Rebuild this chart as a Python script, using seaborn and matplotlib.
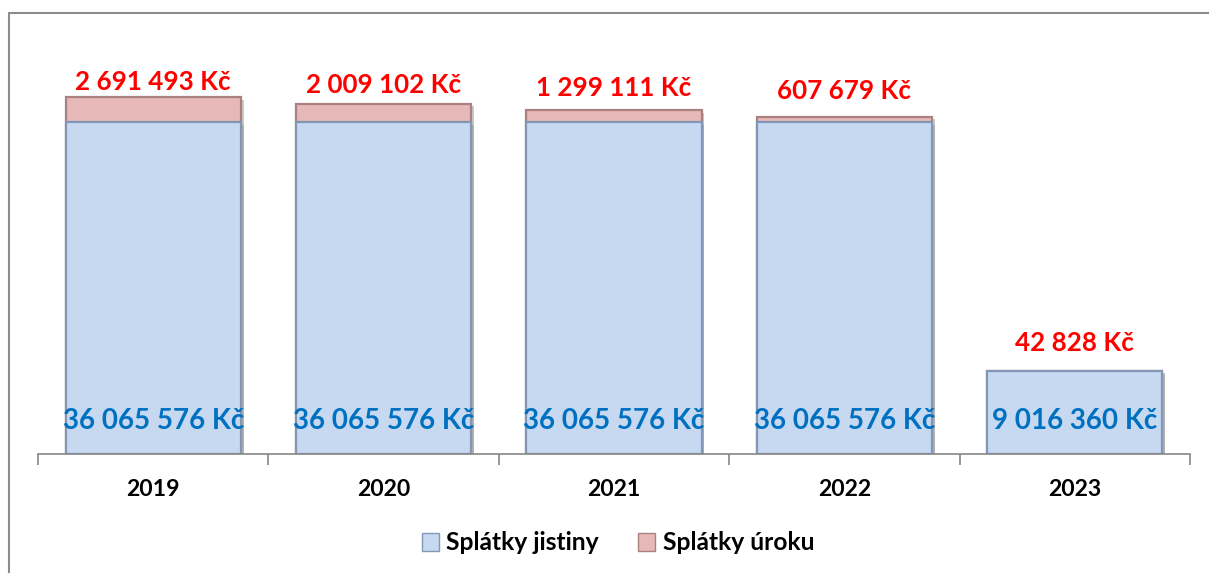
import matplotlib
matplotlib.use("Agg")
import matplotlib.pyplot as plt
import matplotlib.patheffects as pe
from matplotlib.patches import Rectangle, Patch
import seaborn as sns
import pandas as pd

years = ["2019", "2020", "2021", "2022", "2023"]
principal = [36065576, 36065576, 36065576, 36065576, 9016360]
interest = [2691493, 2009102, 1299111, 607679, 42828]

BLUE = "#C6D9F1"
BLUE_EDGE = "#8197B5"
PINK = "#E6B9B8"
PINK_EDGE = "#A88180"


def kc(v):
    return f"{v:,}".replace(",", " ") + " Kč"


df = pd.DataFrame({"year": years, "principal": principal, "interest": interest})
df["total"] = df["principal"] + df["interest"]

sns.set_theme(style="white")
plt.rcParams["font.family"] = ["Lato", "DejaVu Sans"]
plt.rcParams["font.weight"] = "bold"

fig = plt.figure(figsize=(12.09, 5.73), dpi=100)
ax = fig.add_axes([38 / 1209, 119 / 573, 1152 / 1209, 414 / 573])

shadow = [pe.SimplePatchShadow(offset=(2, -2), shadow_rgbFace="#999999", alpha=0.5), pe.Normal()]

sns.barplot(data=df, x="year", y="total", color=PINK, saturation=1, width=0.76,
            edgecolor=PINK_EDGE, linewidth=1.6, ax=ax)
sns.barplot(data=df, x="year", y="principal", color=BLUE, saturation=1, width=0.76,
            edgecolor=BLUE_EDGE, linewidth=1.6, ax=ax)
for p in ax.patches:
    p.set_path_effects(shadow)

ax.set_ylim(0, 45e6)
ax.set_xlim(-0.5, len(years) - 0.5)

for i, row in df.iterrows():
    # interest label above the stack
    ax.annotate(kc(row["interest"]), (i, row["principal"] + row["interest"] / 2),
                xytext=(0, 28), textcoords="offset pixels", ha="center", va="center",
                color="#FF0000", fontsize=18.7, fontweight="bold")
    # principal label near bottom of the bar
    ax.annotate(kc(row["principal"]), (i, 0), xytext=(0, 33), textcoords="offset pixels",
                ha="center", va="center", color="#0070C0", fontsize=20, fontweight="bold")

ax.set_xlabel("")
ax.set_ylabel("")
ax.set_yticks([])
ax.set_xticks([i - 0.5 for i in range(len(years) + 1)], minor=False)
ax.set_xticklabels([])
ax.set_xticks(range(len(years)), minor=True)
ax.set_xticklabels(years, minor=True, fontsize=16.6, fontweight="bold", color="black")
ax.tick_params(axis="x", which="major", length=8, width=1.2, color="#868686", direction="out",
               bottom=True)
ax.tick_params(axis="x", which="minor", length=0, pad=18)
for s in ["top", "right", "left"]:
    ax.spines[s].set_visible(False)
ax.spines["bottom"].set_color("#868686")
ax.spines["bottom"].set_linewidth(1.2)

handles = [Patch(facecolor=BLUE, edgecolor=BLUE_EDGE, label="Splátky jistiny"),
           Patch(facecolor=PINK, edgecolor=PINK_EDGE, label="Splátky úroku")]
fig.legend(handles=handles, loc="center", bbox_to_anchor=(618 / 1209, 1 - 543 / 573), ncol=2,
           frameon=False, prop={"weight": "bold", "size": 17.7}, handlelength=0.7,
           handleheight=0.7, handletextpad=0.3, columnspacing=1.6, labelcolor="black")

fig.patches.append(Rectangle((9 / 1209, -0.1), 1.2, 1 - 13 / 573 + 0.1, transform=fig.transFigure,
                             fill=False, edgecolor="#8C8C8C", linewidth=1.5))

fig.savefig("out.png", dpi=100)
